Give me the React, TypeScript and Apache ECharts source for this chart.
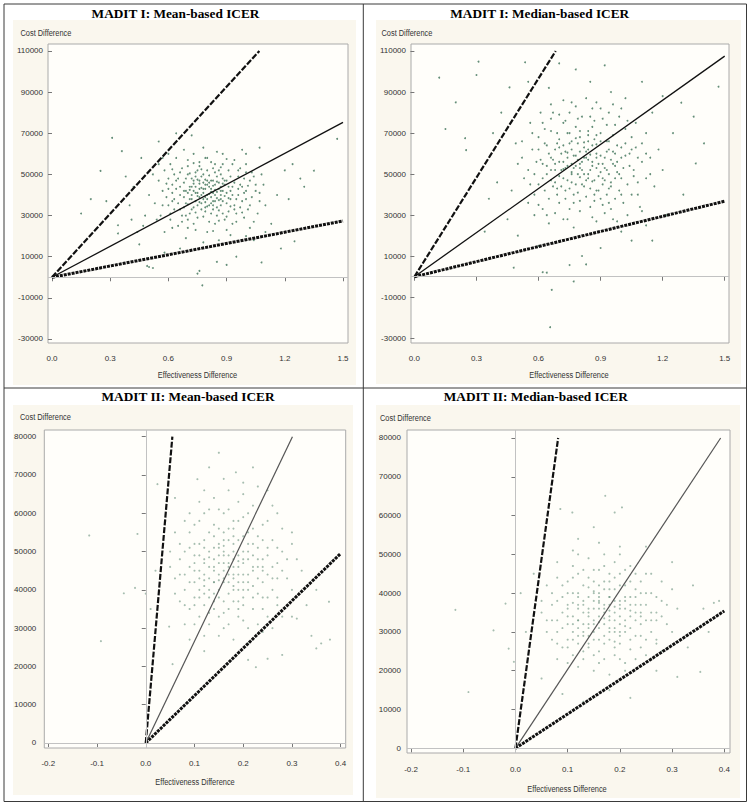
import React, { useEffect, useRef } from 'react';
import * as echarts from 'echarts';

// ---------- DATA ----------
const panelTitles = [
  'MADIT I: Mean-based ICER',
  'MADIT I: Median-based ICER',
  'MADIT II: Mean-based ICER',
  'MADIT II: Median-based ICER',
];
const xAxisTitle = 'Effectiveness Difference';
const yAxisTitle = 'Cost Difference';

const topYTicks = [-30000, -10000, 10000, 30000, 50000, 70000, 90000, 110000];
const topXTicks = [0, 0.3, 0.6, 0.9, 1.2, 1.5];
const bottomYTicks = [0, 10000, 20000, 30000, 40000, 50000, 60000, 70000, 80000];
const bottomXTicks = [-0.2, -0.1, 0, 0.1, 0.2, 0.3, 0.4];

// line end points [effectiveness, cost in thousands]; lines start at origin
const madit1MeanLines = [[1.069, 110], [1.5, 75.3], [1.5, 27.4]];
const madit1MedianLines = [[0.683, 110], [1.5, 107.5], [1.5, 36.8]];
const madit2MeanLines = [[0.0546, 80], [0.301, 80], [0.4, 49.5]];
const madit2MedianLines = [[0.0818, 80], [0.393, 80], [0.4, 35.4]];

// bootstrap replicates [effectiveness diff, cost diff in thousands]
const madit1Mean = [
  [0.31,67.8],[0.36,61.3],[0.25,51.7],[1.47,67.3],[1.35,51.8],[0.775,-3.9],[0.49,5.5],[1.08,7.2],[0.85,7.5],[0.76,3.1],
  [0.34,25.3],[0.34,21.3],[0.52,4.5],[0.5,5],[0.75,1.8],[0.9,6],[1.18,14],[1.25,17.5],[0.15,31],[0.42,44],
  [0.46,58],[0.55,66],[0.64,70],[0.72,69],[0.98,62],[1.07,63],[1.2,52],[1.28,48],[1.3,44],[1.22,38],
  [1.13,26],[1.04,18],[0.58,12],[0.66,14],[0.45,16],[0.4,35],[0.38,49],[0.28,37],[0.2,38],[0.95,10],
  [1.1,35],[1.16,40],[1.24,55],[0.5,40],[0.48,30],
  [0.62,45],[0.65,48],[0.68,42],[0.7,50],[0.72,38],[0.74,44],[0.76,47],[0.78,41],[0.8,52],[0.82,39],
  [0.84,45],[0.86,43],[0.88,48],[0.9,36],[0.92,42],[0.94,46],[0.96,40],[0.98,44],[1.0,38],[1.02,47],
  [0.6,35],[0.63,38],[0.66,33],[0.69,36],[0.71,31],[0.73,34],[0.75,29],[0.77,36],[0.79,32],[0.81,27],
  [0.83,33],[0.85,30],[0.87,35],[0.89,28],[0.91,32],[0.93,26],[0.95,31],[0.97,34],[0.99,29],[1.01,33],
  [0.58,52],[0.61,55],[0.64,58],[0.67,53],[0.7,57],[0.73,60],[0.76,54],[0.79,58],[0.82,56],[0.85,61],
  [0.88,55],[0.91,52],[0.94,57],[0.97,53],[1.0,55],[1.03,51],[0.55,47],[0.57,42],[0.59,39],[0.56,30],
  [0.71,44],[0.73,47],[0.75,41],[0.77,49],[0.79,43],[0.81,46],[0.83,41],[0.85,49],[0.87,40],[0.89,45],
  [0.72,40],[0.74,37],[0.76,43],[0.78,46],[0.8,38],[0.82,43],[0.84,37],[0.86,46],[0.88,42],[0.9,47],
  [0.68,46],[0.66,40],[0.64,43],[0.62,37],[0.69,30],[0.67,27],[0.65,25],[0.7,24],[0.8,22],[0.9,23],
  [1.05,42],[1.07,37],[1.09,45],[1.06,31],[1.04,27],[1.08,50],[0.53,36],[0.54,28],[0.52,50],[0.57,58],
  [0.75,35],[0.77,33],[0.79,39],[0.81,35],[0.83,37],[0.85,34],[0.87,38],[0.72,48],[0.74,51],[0.78,50],
  [0.8,45],[0.84,51],[0.86,52],[0.92,38],[0.94,35],[0.96,49],[0.98,37],[1.0,42],[0.6,43],[0.63,50],
  [0.7,41],[0.76,39],[0.82,47],[0.88,31],[0.93,44],[0.99,48],[0.61,28],[0.73,26],[0.84,26],[0.95,27],
  [1.02,24],[0.58,22],[0.69,19],[0.78,17],[0.86,18],[1.0,20],[1.1,22],[0.47,25],[0.44,22],[0.41,28],
];
const madit1MeanCore = [
  [0.71,42.5],[0.73,45.5],[0.75,39.5],[0.77,43.5],[0.79,47.5],[0.81,40.5],[0.83,44.5],[0.85,38.5],[0.87,44],[0.89,39.5],
  [0.7,35.5],[0.72,33],[0.74,41],[0.76,36.5],[0.78,38],[0.8,34.5],[0.82,36],[0.84,40],[0.86,32.5],[0.88,37],
  [0.66,44],[0.68,39],[0.69,48],[0.71,50.5],[0.73,42],[0.75,52],[0.77,40],[0.79,45],[0.81,49.5],[0.83,47],
  [0.85,41.5],[0.87,50],[0.89,47],[0.91,44],[0.93,40],[0.95,38],[0.97,45],[0.99,41],[1.01,44.5],[1.03,39],
  [0.64,47],[0.62,41],[0.6,48],[0.65,36],[0.63,33],[0.67,30],[0.7,28],[0.74,31.5],[0.78,29.5],[0.82,31],
  [0.86,27.5],[0.9,29.5],[0.94,33],[0.98,31.5],[1.02,35],[0.76,56],[0.8,58],[0.84,55],[0.9,57.5],[0.7,54],
  [0.74,49],[0.78,43],[0.82,41.5],[0.86,37.5],[0.9,41],[0.92,49],[0.96,43],[0.72,44],[0.76,45.5],[0.8,40],
  [0.84,42.5],[0.88,45.5],[0.68,34],[0.92,34.5],[0.8,47],[0.79,36.5],[0.77,52.5],[0.83,53],[0.87,53.5],[0.73,55.5],
  [0.66,51],[0.62,52.5],[0.59,45.5],[0.57,35],[0.61,31],[1.05,45],[1.07,41],[1.04,49],[1.0,51],[0.96,52],
  [0.93,55],[0.75,47.5],[0.81,44],[0.85,46.5],[0.71,38],[0.69,42],[0.79,34],[0.83,35],[0.87,42],[0.91,38.5],
  [0.74,23],[0.83,22.5],[0.92,20.5],[0.62,24],[0.55,55],[0.6,60],[0.68,62],[0.78,63],[0.88,60],[1.0,60],
];

const madit1Median = [
  [0.31,104.8],[0.535,104.5],[0.3,98.3],[0.46,92.3],[0.25,61.7],[0.245,67.5],[1.47,92.6],[1.35,78],[1.36,55.2],[1.29,84.8],
  [0.656,-24.6],[0.664,-6.4],[0.77,-2.3],[0.48,4.4],[0.64,2],[0.62,2.2],[0.34,22],[1.15,17.6],[0.81,10.1],[0.75,5.7],
  [0.83,6],[1.05,17.6],[0.2,85],[0.15,72],[0.12,97],[0.7,104],[0.92,103],[0.78,101],[1.1,95],[1.2,88],
  [1.25,70],[1.4,65],[1.3,40],[1.22,30],[0.4,46],[0.36,38],[0.45,28],[0.5,20],[0.6,15],[0.9,14],
  [1.0,22],[1.12,25],[0.42,80],[0.38,70],[0.55,95],[0.65,92],[0.85,95],[0.95,90],[1.02,87],[1.15,80],
  [0.62,55],[0.65,60],[0.68,52],[0.7,63],[0.72,48],[0.74,58],[0.76,66],[0.78,54],[0.8,61],[0.82,50],
  [0.84,57],[0.86,64],[0.88,53],[0.9,59],[0.92,47],[0.94,62],[0.96,55],[0.98,51],[1.0,58],[1.02,65],
  [0.6,45],[0.63,42],[0.66,47],[0.69,40],[0.71,44],[0.73,38],[0.75,43],[0.77,36],[0.79,41],[0.81,45],
  [0.83,39],[0.85,43],[0.87,37],[0.89,42],[0.91,35],[0.93,40],[0.95,44],[0.97,38],[0.99,42],[1.01,36],
  [0.6,68],[0.63,72],[0.66,77],[0.69,70],[0.72,75],[0.75,80],[0.78,73],[0.81,78],[0.84,71],[0.87,76],
  [0.9,82],[0.93,74],[0.96,69],[0.99,78],[1.02,72],[1.05,68],[0.57,62],[0.55,52],[0.58,40],[0.56,75],
  [0.7,56],[0.73,61],[0.76,51],[0.79,57],[0.82,63],[0.85,52],[0.88,60],[0.91,55],[0.94,50],[0.97,60],
  [0.71,52],[0.74,54],[0.77,59],[0.8,55],[0.83,58],[0.86,56],[0.89,49],[0.92,53],[0.95,57],[0.98,64],
  [0.64,50],[0.67,57],[0.69,65],[0.75,70],[0.8,68],[0.84,66],[0.88,69],[0.93,66],[1.04,60],[1.06,52],
  [1.08,46],[1.1,56],[1.07,63],[1.05,40],[1.09,34],[1.12,48],[1.14,58],[1.16,44],[0.53,48],[0.52,58],
  [0.62,33],[0.68,31],[0.74,28],[0.8,32],[0.86,29],[0.92,31],[0.98,27],[1.03,30],[0.65,26],[0.77,24],
  [0.58,30],[0.55,36],[0.5,55],[0.49,65],[0.47,42],[1.18,62],[1.2,52],[1.12,70],[0.66,84],[0.72,86],
  [0.78,83],[0.83,87],[0.88,85],[0.96,84],[0.61,80],[0.7,79],[0.79,65],[0.87,47],[0.91,45],[0.97,48],
  [0.73,53],[0.81,52],[0.67,44],[0.94,36],[1.0,48],[0.76,46],[0.84,48],[0.9,66],[0.64,64],[0.59,56],
];
const madit1MedianCore = [
  [0.72,56],[0.74,60.5],[0.76,55],[0.78,59],[0.8,53],[0.82,58],[0.84,62],[0.86,54],[0.88,58],[0.9,51],
  [0.7,49],[0.72,52.5],[0.74,47],[0.76,50],[0.78,45],[0.8,48.5],[0.82,44],[0.84,50],[0.86,46.5],[0.88,42],
  [0.66,58],[0.68,62],[0.7,67],[0.72,64],[0.74,70],[0.76,62],[0.78,67.5],[0.8,71],[0.82,65.5],[0.84,69],
  [0.86,73],[0.88,64.5],[0.9,70],[0.92,58],[0.94,66],[0.96,61],[0.98,56],[1.0,63],[1.02,59],[1.04,54],
  [0.62,48],[0.64,54],[0.66,52],[0.68,46],[0.65,38],[0.7,36],[0.75,33],[0.8,37],[0.85,34],[0.9,38],
  [0.95,33],[1.0,40],[1.03,45],[1.06,49],[1.08,58],[0.6,62],[0.63,65],[0.58,50],[0.61,57],[0.66,71],
  [0.73,76],[0.79,77],[0.85,78],[0.91,77],[0.97,74],[1.03,76],[0.68,55],[0.71,60],[0.77,53],[0.81,56],
  [0.85,59.5],[0.89,55],[0.93,52],[0.97,54],[0.75,65],[0.83,61],[0.87,67],[0.93,61],[0.79,50],[0.83,47],
  [0.91,48],[0.95,46],[0.99,50],[0.73,42],[0.77,40],[0.69,43],[0.87,40],[0.94,43],[1.01,53],[1.05,62],
  [1.1,65],[1.08,40],[0.56,45],[0.6,35],[0.64,30],[0.72,28],[0.88,27],[0.96,28],[1.1,32],[0.52,66],
  [0.57,70],[0.62,75],[0.67,80],[0.76,85],[0.86,82],[0.94,80],[1.0,82],[1.07,75],[1.12,60],[1.14,50],
];

const madit2Mean = [
  [-0.116,54.2],[-0.017,54.6],[0.15,75.8],[0.185,70.7],[0.106,68.9],[0.024,67.6],[-0.092,26.6],[-0.045,39.1],[-0.022,40.5],[0.0,39],
  [0.36,26],[0.35,24.7],[0.378,27],[0.376,36.9],[0.21,21.7],[0.226,19.8],[0.055,20.6],[0.048,30.4],[0.31,32.5],[0.3,33],
  [0.34,28],[0.33,36],[0.28,23],[0.25,22],[0.12,24],[0.09,27],[0.02,45],[0.01,35],[0.04,58],[0.06,64],
  [0.25,66],[0.27,60],[0.3,52],[0.32,45],[0.22,72],[0.13,72],[0.09,60],[0.35,40],
  [0.1,45],[0.12,48],[0.14,42],[0.16,50],[0.18,44],[0.2,47],[0.22,41],[0.24,46],[0.11,52],[0.13,55],
  [0.15,47],[0.17,53],[0.19,49],[0.21,55],[0.23,51],[0.25,44],[0.08,40],[0.1,38],[0.12,36],[0.14,39],
  [0.16,37],[0.18,40],[0.2,36],[0.22,38],[0.24,35],[0.26,40],[0.07,48],[0.09,51],[0.11,43],[0.13,46],
  [0.15,44],[0.17,46],[0.19,42],[0.21,44],[0.23,48],[0.27,47],[0.15,52],[0.16,45],[0.17,42],[0.18,48],
  [0.14,57],[0.16,60],[0.18,56],[0.2,59],[0.22,62],[0.12,60],[0.1,57],[0.19,63],[0.24,57],[0.26,53],
  [0.28,50],[0.29,43],[0.27,38],[0.25,33],[0.23,31],[0.21,30],[0.19,33],[0.17,31],[0.15,33],[0.13,31],
  [0.11,33],[0.09,35],[0.07,37],[0.06,43],[0.05,50],[0.06,55],[0.08,58],[0.14,64],[0.17,66],[0.2,65],
  [0.23,67],[0.28,56],[0.3,40],[0.31,48],[0.15,28],[0.18,27],[0.21,26],[0.12,28],[0.26,30],[0.08,31],
  [0.14,45],[0.16,42],[0.18,52],[0.2,50],[0.12,44],[0.13,50],[0.17,49],[0.19,46],[0.21,48],[0.22,52],
  [0.1,49],[0.11,40],[0.15,40],[0.2,42],[0.24,42],[0.16,55],[0.14,51],[0.12,41],[0.18,37],[0.22,45],
  [0.09,46],[0.13,38],[0.17,35],[0.23,39],[0.25,49],[0.19,58],[0.15,61],[0.11,63],[0.21,52],[0.27,43],
  [0.16,47],[0.18,43],[0.14,48],[0.2,38],[0.1,42],[0.24,53],[0.26,46],[0.12,53],[0.08,44],[0.07,52],
];
const madit2MeanCore = [
  [0.14,46],[0.15,49],[0.16,43],[0.17,47],[0.18,50],[0.19,44],[0.2,48],[0.21,42],[0.22,46],[0.13,43],
  [0.12,47],[0.11,45],[0.15,51],[0.17,56],[0.19,53],[0.16,53],[0.14,54],[0.18,58],[0.2,54],[0.22,56],
  [0.13,40],[0.15,38],[0.17,39],[0.19,37],[0.21,40],[0.23,43],[0.11,38],[0.09,42],[0.1,47],[0.12,51],
  [0.24,48],[0.25,51],[0.23,54],[0.26,43],[0.2,44],[0.18,46],[0.16,49],[0.14,42],[0.12,39],[0.1,36],
  [0.13,34],[0.16,34],[0.19,35],[0.22,35],[0.25,38],[0.28,45],[0.27,51],[0.08,50],[0.07,44],[0.09,55],
  [0.11,58],[0.13,61],[0.17,61],[0.21,60],[0.25,58],[0.15,42.5],[0.17,44],[0.19,47.5],[0.21,50],[0.13,48.5],
  [0.11,49],[0.16,51.5],[0.18,41],[0.2,40],[0.14,37],[0.22,49],[0.24,45],[0.12,42.5],[0.1,52],[0.08,36],
  [0.06,39],[0.05,46],[0.24,38],[0.27,36],[0.29,48],[0.3,55],[0.26,62],[0.2,68],[0.16,69],[0.12,66],
  [0.16,30],[0.2,32],[0.1,31],[0.24,29],[0.28,33],[0.14,35],[0.18,54],[0.15,56],[0.23,46],[0.19,40],
];

const madit2Median = [
  [-0.115,35.7],[-0.09,14.5],[-0.042,30.4],[-0.019,37.3],[-0.013,25.7],[-0.003,22.3],[0.354,19.7],[0.31,18.4],[0.38,37.5],[0.172,65.1],
  [0.086,61.7],[0.109,60.8],[0.204,62.1],[0.19,60.8],[0.02,30],[0.01,40],[0.035,45],[0.05,18],[0.09,14],[0.13,12],
  [0.18,15],[0.22,13],[0.27,20],[0.33,26],[0.36,36],[0.34,42],[0.3,48],[0.25,52],[0.12,54],[0.08,48],
  [0.15,57],[0.11,51],[0.39,38],[0.37,30],
  [0.1,34],[0.12,37],[0.14,32],[0.16,38],[0.18,33],[0.2,36],[0.22,31],[0.24,35],[0.11,40],[0.13,42],
  [0.15,36],[0.17,41],[0.19,38],[0.21,42],[0.23,39],[0.25,33],[0.08,30],[0.1,28],[0.12,27],[0.14,29],
  [0.16,28],[0.18,30],[0.2,27],[0.22,28],[0.24,26],[0.26,30],[0.07,37],[0.09,39],[0.11,32],[0.13,35],
  [0.15,33],[0.17,35],[0.19,31],[0.21,33],[0.23,37],[0.27,35],[0.15,40],[0.16,34],[0.17,32],[0.18,37],
  [0.14,44],[0.16,46],[0.18,43],[0.2,45],[0.22,47],[0.12,45],[0.1,43],[0.19,48],[0.24,43],[0.26,40],
  [0.28,38],[0.29,32],[0.27,28],[0.25,24],[0.23,23],[0.21,22],[0.19,24],[0.17,23],[0.15,24],[0.13,23],
  [0.11,24],[0.09,26],[0.07,28],[0.06,33],[0.05,38],[0.06,42],[0.08,44],[0.14,49],[0.17,50],[0.2,50],
  [0.23,45],[0.28,43],[0.3,30],[0.31,36],[0.15,20],[0.18,19],[0.21,20],[0.12,21],[0.26,23],[0.08,23],
  [0.14,34],[0.16,31],[0.18,39],[0.2,38],[0.12,33],[0.13,38],[0.17,37],[0.19,35],[0.21,36],[0.22,39],
  [0.1,37],[0.11,30],[0.15,30],[0.2,32],[0.24,32],[0.16,42],[0.14,39],[0.12,31],[0.18,28],[0.22,34],
  [0.09,35],[0.13,29],[0.17,27],[0.23,29],[0.25,37],[0.19,44],[0.15,46],[0.11,47],[0.21,39],[0.27,33],
  [0.16,36],[0.18,34],[0.14,36],[0.2,29],[0.1,32],[0.24,40],[0.26,35],[0.12,40],[0.08,33],[0.07,40],
];
const madit2MedianCore = [
  [0.14,35],[0.15,38],[0.16,32.5],[0.17,36],[0.18,39],[0.19,33],[0.2,37],[0.21,31.5],[0.22,35.5],[0.13,32],
  [0.12,36],[0.11,34],[0.15,40.5],[0.17,43],[0.19,41],[0.16,40],[0.14,41.5],[0.18,45],[0.2,42],[0.22,43],
  [0.13,30],[0.15,28],[0.17,29],[0.19,27.5],[0.21,30],[0.23,33],[0.11,28],[0.09,31],[0.1,36],[0.12,39],
  [0.24,37],[0.25,40],[0.23,41],[0.26,33],[0.2,34],[0.18,35.5],[0.16,37.5],[0.14,31],[0.12,29],[0.1,26],
  [0.13,25],[0.16,25],[0.19,26],[0.22,25.5],[0.25,28],[0.28,34],[0.27,39],[0.08,38],[0.07,33],[0.09,42],
  [0.11,44],[0.13,46],[0.17,47],[0.21,46],[0.25,45],[0.15,32],[0.17,33.5],[0.19,36.5],[0.21,38],[0.13,37],
  [0.11,37.5],[0.16,39],[0.18,31],[0.2,30],[0.14,27],[0.22,37],[0.24,34],[0.12,33],[0.1,40],[0.08,27],
  [0.06,30],[0.05,35],[0.24,29],[0.27,27],[0.29,37],[0.3,41],[0.26,45],[0.2,52],[0.16,53],[0.12,50],
  [0.16,22],[0.2,23],[0.1,22],[0.24,21],[0.28,25],[0.14,26],[0.18,41],[0.15,43],[0.23,35],[0.19,30],
];

// ---------- LAYOUT ----------
const NARROW = "'Liberation Sans Narrow', 'Arial Narrow', 'Liberation Sans', Arial, sans-serif";
const SERIF = "'Liberation Serif', 'Times New Roman', serif";

const panels = [
  {
    title: panelTitles[0], titleX: 175.5, titleY: 13.3,
    cell: { x: 13, y: 20, w: 343, h: 365 },
    grid: { left: 48, top: 44, width: 300, height: 299 },
    xr: [-0.0206, 1.5258], yr: [-31945, 113400],
    xTicks: topXTicks, yTicks: topYTicks,
    points: madit1Mean.concat(madit1MeanCore), lines: madit1MeanLines,
    yName: { x: 20.5, y: 32.7 }, xName: { x: 197.5, y: 374.3 }, xMargin: 11, yMargin: 5, vZero: false, bottom: false,
  },
  {
    title: panelTitles[1], titleX: 539.7, titleY: 13.3,
    cell: { x: 376, y: 20, w: 365, h: 364 },
    grid: { left: 411, top: 44, width: 318, height: 299 },
    xr: [-0.0164, 1.5208], yr: [-32290, 113411],
    xTicks: topXTicks, yTicks: topYTicks,
    points: madit1Median.concat(madit1MedianCore), lines: madit1MedianLines,
    yName: { x: 381.5, y: 32.7 }, xName: { x: 569, y: 374.3 }, xMargin: 11, yMargin: 5, vZero: false, bottom: false,
  },
  {
    title: panelTitles[2], titleX: 188, titleY: 396.7,
    cell: { x: 13, y: 405, w: 340, h: 390 },
    grid: { left: 44.3, top: 430, width: 301.4, height: 318 },
    xr: [-0.2082, 0.4103], yr: [-1306, 81750],
    xTicks: bottomXTicks, yTicks: bottomYTicks,
    points: madit2Mean.concat(madit2MeanCore), lines: madit2MeanLines,
    yName: { x: 20, y: 416.7 }, xName: { x: 195, y: 782 }, xMargin: 11, yMargin: 8, vZero: true, bottom: true,
  },
  {
    title: panelTitles[3], titleX: 535.8, titleY: 396.7,
    cell: { x: 376, y: 405, w: 364, h: 393 },
    grid: { left: 407, top: 430, width: 323, height: 323 },
    xr: [-0.2077, 0.4109], yr: [-1212, 82062],
    xTicks: bottomXTicks, yTicks: bottomYTicks,
    points: madit2Median.concat(madit2MedianCore), lines: madit2MedianLines,
    yName: { x: 380, y: 417.3 }, xName: { x: 567, y: 788.3 }, xMargin: 12, yMargin: 6, vZero: true, bottom: true,
  },
];

function buildOption() {
  const grid: any[] = [];
  const xAxis: any[] = [];
  const yAxis: any[] = [];
  const series: any[] = [];
  const graphic: any[] = [];

  // table borders
  graphic.push({ type: 'rect', z: -20, shape: { x: 4, y: 4, width: 742.5, height: 797.5 }, style: { fill: '#ffffff', stroke: '#3a3a3a', lineWidth: 1 } });
  graphic.push({ type: 'line', z: 10, shape: { x1: 363.3, y1: 4, x2: 363.3, y2: 801.5 }, style: { stroke: '#3a3a3a', lineWidth: 1 } });
  graphic.push({ type: 'line', z: 10, shape: { x1: 4, y1: 388, x2: 746.5, y2: 388 }, style: { stroke: '#3a3a3a', lineWidth: 1 } });

  panels.forEach((p, i) => {
    graphic.push({ type: 'rect', z: -10, shape: { x: p.cell.x, y: p.cell.y, width: p.cell.w, height: p.cell.h }, style: { fill: '#faf7ee' } });
    graphic.push({
      type: 'text', z: 10, x: p.titleX, y: p.titleY,
      style: { text: p.title, font: `bold 13.3px ${SERIF}`, fill: '#000', align: 'center', verticalAlign: 'middle' },
    });
    graphic.push({
      type: 'text', z: 10, x: p.yName.x, y: p.yName.y, scaleX: 0.78,
      style: { text: yAxisTitle, font: `9.5px ${NARROW}`, fill: '#333', align: 'left', verticalAlign: 'middle' },
    });
    graphic.push({
      type: 'text', z: 10, x: p.xName.x, y: p.xName.y, scaleX: 0.78,
      style: { text: xAxisTitle, font: `9.5px ${NARROW}`, fill: '#333', align: 'center', verticalAlign: 'middle' },
    });

    grid.push({ ...p.grid, show: true, backgroundColor: '#fffefa', borderColor: '#aaaaaa', borderWidth: 1, containLabel: false });
    xAxis.push({
      type: 'value', gridIndex: i, min: p.xr[0], max: p.xr[1],
      axisLine: { show: false },
      axisTick: { show: true, customValues: p.xTicks, length: 4, lineStyle: { color: '#777' } },
      axisLabel: { customValues: p.xTicks, formatter: (v: number) => v.toFixed(1), fontFamily: NARROW, fontSize: 8, color: '#333', margin: p.xMargin },
      splitLine: { show: false },
    });
    yAxis.push({
      type: 'value', gridIndex: i, min: p.yr[0], max: p.yr[1],
      axisLine: { show: false },
      axisTick: { show: true, customValues: p.yTicks, length: 4, lineStyle: { color: '#777' } },
      axisLabel: { customValues: p.yTicks, formatter: (v: number) => String(Math.round(v)), fontFamily: NARROW, fontSize: 8, color: '#333', margin: p.yMargin },
      splitLine: { show: false },
    });

    const zeroLines: any[] = [{ yAxis: 0 }];
    if (p.vZero) zeroLines.push({ xAxis: 0 });
    series.push({
      type: 'scatter', xAxisIndex: i, yAxisIndex: i,
      data: p.points.map(([x, y]) => [x, y * 1000]),
      symbolSize: p.bottom ? 2.1 : 1.9,
      itemStyle: { color: p.bottom ? '#6a927f' : '#3d7257', opacity: p.bottom ? 0.6 : 0.8 },
      markLine: {
        silent: true, symbol: 'none', label: { show: false },
        lineStyle: { color: '#c2c2c2', width: 1, type: 'solid' },
        data: zeroLines,
      },
      z: 2,
    });
    const styles = [
      { color: '#111', width: 2.2, type: [6, 1.8] },
      { color: p.bottom ? '#555' : '#111', width: p.bottom ? 1.2 : 1.3, type: 'solid' },
      { color: '#111', width: 3, type: [3, 1] },
    ];
    p.lines.forEach(([ex, ey], k) => {
      series.push({
        type: 'line', xAxisIndex: i, yAxisIndex: i,
        data: [[0, 0], [ex, ey * 1000]],
        symbol: 'none', lineStyle: styles[k], z: 3,
      });
    });
  });

  return { animation: false, grid, xAxis, yAxis, series, graphic };
}

export default function App() {
  const ref = useRef<HTMLDivElement>(null);
  useEffect(() => {
    if (!ref.current) return;
    const chart = echarts.init(ref.current, null, { renderer: 'svg' });
    chart.setOption(buildOption() as any);
    return () => chart.dispose();
  }, []);
  return (
    <div
      ref={ref}
      style={{ position: 'absolute', left: 0, top: 0, width: 751, height: 807, background: '#ffffff' }}
    />
  );
}
